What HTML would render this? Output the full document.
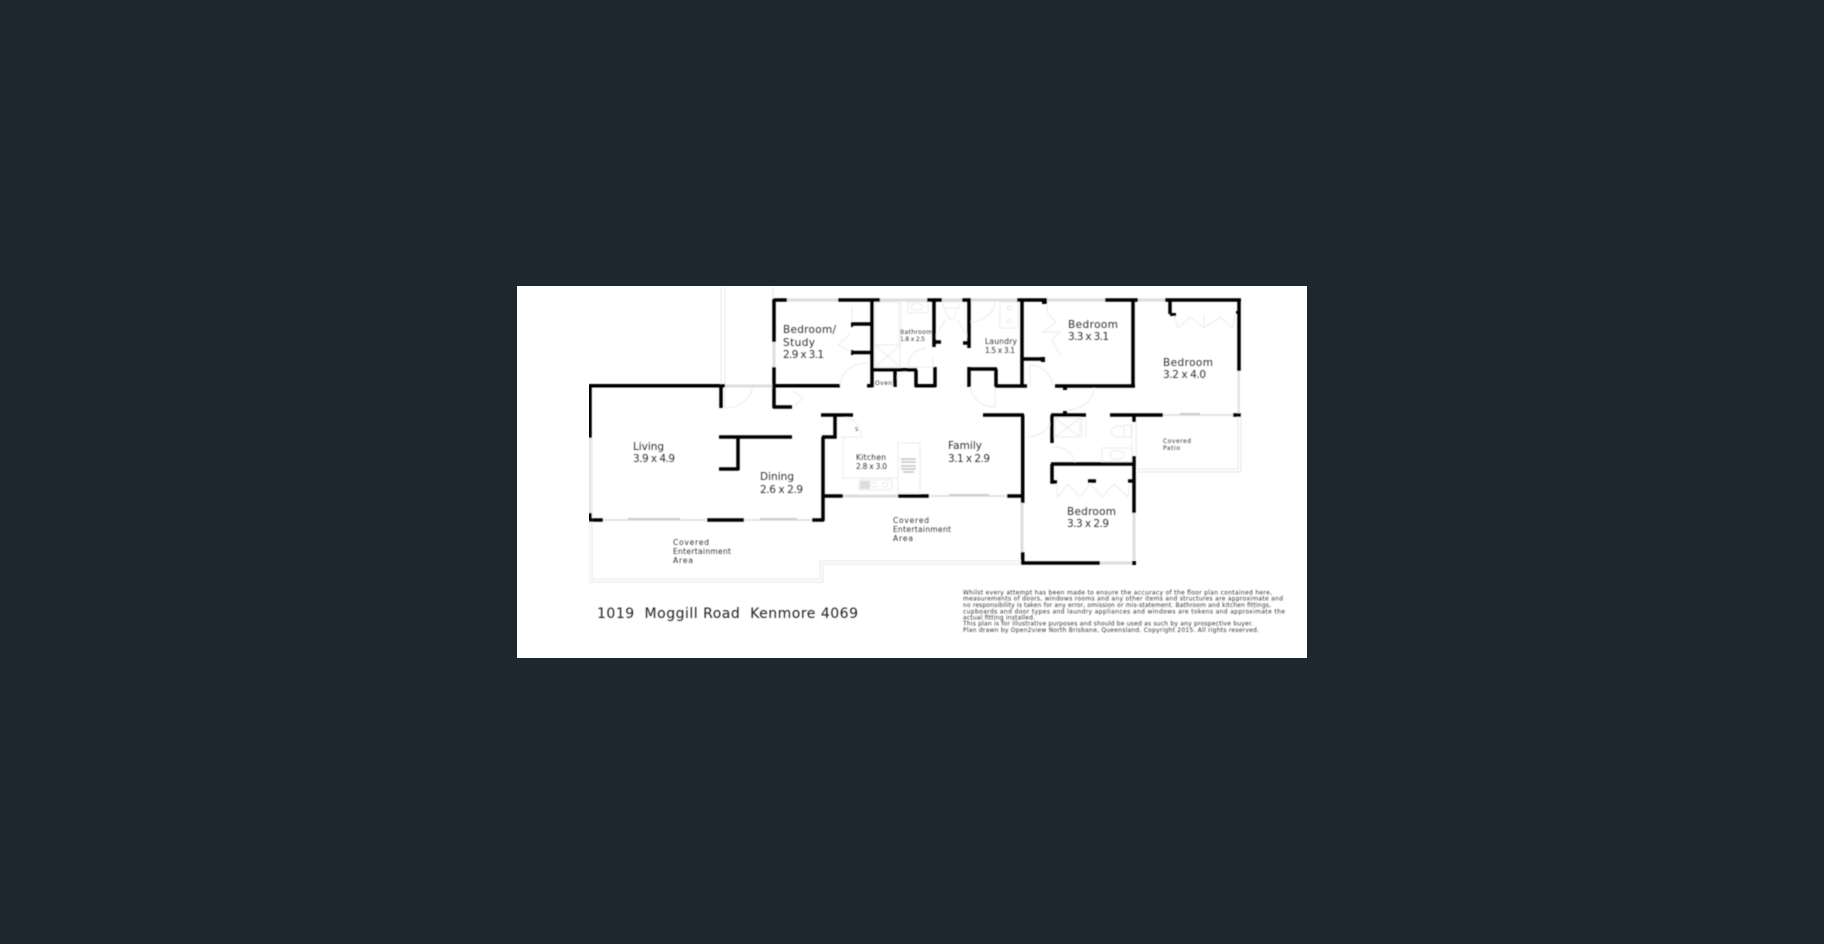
<!DOCTYPE html>
<html><head><meta charset="utf-8"><style>
html,body{margin:0;padding:0;background:#1f272e;width:1824px;height:944px;overflow:hidden}
svg{display:block}
text{font-family:"DejaVu Sans","Liberation Sans",sans-serif;fill:#333}
</style></head><body>
<svg width="1824" height="944" viewBox="0 0 1824 944" xmlns="http://www.w3.org/2000/svg">
<defs><filter id="b" x="0" y="0" width="100%" height="100%"><feGaussianBlur stdDeviation="0.45"/></filter></defs>
<rect width="1824" height="944" fill="#1f272e"/>
<rect x="517" y="286" width="790" height="372" fill="#fff"/>
<g filter="url(#b)">
<!-- light outlines -->
<g fill="none" stroke="#ebebeb" stroke-width="1.3">
<path d="M721 287V386M725 287V386M773 287V299"/>
<path d="M589 438V582H823V564H1022M592 438V579H820V561H1022"/>
<path d="M1137 472H1241V415M1137 469H1238V371"/>
</g>
<g fill="none" stroke="#eeeeee" stroke-width="1.2">
<!-- door arcs -->
<path d="M725 408A27 22 0 0 0 752 386H725V408"/>
<path d="M840 386A27 23 0 0 1 867 363"/>
<path d="M793 391L803 398L795 406"/>
<path d="M970 322A25 22 0 0 0 995 300"/>
<path d="M970 387A25 25 0 0 0 995 407V387"/>
<path d="M1030 365A24 22 0 0 1 1053 386M1030 365V386"/>
<path d="M1067 410A27 23 0 0 0 1094 387"/>
<path d="M1028 437A25 22 0 0 0 1052 415"/>
<path d="M1052 447A20 18 0 0 1 1075 464"/>
<path d="M908 367A20 18 0 0 1 926 348M908 367H933V357"/>
<path d="M913 370A20 20 0 0 0 893 388"/>
<!-- wardrobes -->
<path d="M852 306V324M852 352L838 345L850 334"/>
<path d="M1047 303V312L1056 322L1043 332H1060L1052 340L1060 355"/>
<path d="M1174 314L1178 328L1190 317L1204 328V314M1204 328L1220 317L1232 328L1236 314"/>
<path d="M1056 484L1058 497L1068 484L1080 497L1090 484L1102 497L1114 484L1128 497L1130 484"/>
<!-- bathroom -->
<rect x="875" y="302" width="24" height="43"/>
<path d="M875 345H900V367H875ZM875 345L900 367M900 345L875 367"/>
<rect x="908" y="302" width="20" height="11"/><ellipse cx="917" cy="307" rx="6" ry="3.5"/>
<path d="M901 302V345"/>
<rect x="943" y="302" width="16" height="6"/><path d="M945 309Q951 330 957 309"/>
<path d="M934 340L945 320M969 340L958 320"/>
<!-- laundry -->
<rect x="1000" y="302" width="18" height="26"/><circle cx="1009" cy="308" r="2"/><circle cx="1009" cy="321" r="2"/>
<!-- kitchen -->
<path d="M843 437V478H898"/><rect x="898" y="443" width="22" height="50"/>
<path d="M845 418Q858 418 862 437H840"/>
<rect x="859" y="480" width="33" height="10" rx="2"/><circle cx="874" cy="485" r="2.5"/><circle cx="885" cy="485" r="2.5"/>
<!-- ensuite -->
<path d="M1055 418H1080V437H1055ZM1055 418L1080 437M1080 418L1055 437"/>
<path d="M1086 418V437M1082 418V437"/>
<rect x="1124" y="425" width="7" height="12"/><path d="M1124 426H1116Q1106 431 1116 437H1124"/>
<rect x="1102" y="448" width="30" height="14"/><ellipse cx="1117" cy="455" rx="7" ry="4.5"/>
<path d="M1132 422V456M1136 422V456"/>
</g>
<!-- stove -->
<g stroke="#c4c4c4" stroke-width="1.4"><path d="M901 459H916M901 462H916M901 466H916M901 469H916M903 472H914"/></g>
<rect x="860" y="481" width="10" height="8" fill="#dcdcdc"/>
<!-- windows -->
<g fill="none" stroke="#dedede" stroke-width="3">
<path d="M787 300H838M880 300H927M942 300H962M971 300H1017M1047 300H1105M1138 300H1165"/>
<path d="M774 342V367M725 386H773"/>
<path d="M843 496H898M1022 503V552M1134 513V560M1100 563H1132"/>
</g>
<g fill="none" stroke="#e3e3e3" stroke-width="2">
<path d="M590 438V513M603 520H707M744 520H812M929 496H1007M1163 415H1233M1239 371V415"/>
</g>
<g fill="none" stroke="#cccccc" stroke-width="2"><path d="M628 519H680M760 519H797M949 495H989M1180 414H1200"/></g>
<!-- walls -->
<g fill="none" stroke="#000" stroke-width="3.5" stroke-linecap="butt">
<path d="M773 300H787M838 300H880M927 300H942M962 300H971M1017 300H1047M1105 300H1138M1165 300H1241"/>
<path d="M774 299V342M774 367V408M773 407H792"/>
<path d="M590 438V385.700H725M721 386V408M773 385.700H840"/>
<path d="M852 324H872M852 352.500H872M872 300V387M867 385.700H873"/>
<path d="M873 369.700H917M895 370V387M916 370V387M915 385.700H936M935 367V387"/>
<path d="M934 300V347M934 342H941M969 300V348M963 343H970"/>
<path d="M969 367V387M969 369H997M996 369V387M995 386H1027"/>
<path d="M1022 300V386M1023 359H1043"/>
<path d="M1133 300V386M1055 386H1135M1170 300V314M1239 299V371"/>
<path d="M983 415H1024M1022.700 415V503M1051 415H1086M1052 415V443"/>
<path d="M1110 415H1163M1233 415H1241M1134 415V422M1134 456V513"/>
<path d="M1051 464H1134M1052 464V482H1057M1088 481H1096M1128 481H1134"/>
<path d="M1022.700 552V563H1100"/>
<path d="M821 415H853M835 415V437H822M823 437V521"/>
<path d="M719 437H792M738 437V470M719 469H739"/>
<path d="M590 513V521M589 520H603M707 520H744M812 520H824M823 496H843M898 496H929M1007 496H1022"/>
</g>
<g fill="#000">
<rect x="1042" y="300" width="5" height="4"/><rect x="1041" y="357" width="4" height="5"/>
<rect x="1063" y="386" width="4" height="4"/><rect x="1063" y="411" width="4" height="4"/>
<rect x="1170" y="313" width="6" height="3"/><rect x="1236" y="311" width="3" height="3"/>
<rect x="1132" y="561" width="4" height="4"/><rect x="851" y="322" width="2" height="5"/><rect x="851" y="350" width="2" height="5"/>
</g>
<!-- labels -->
<g font-size="10.500">
<text x="783" y="333" textLength="53">Bedroom/</text>
<text x="783" y="346" textLength="32">Study</text>
<text x="783" y="358" textLength="41">2.9 x 3.1</text>
<text x="633" y="450" textLength="31">Living</text>
<text x="633" y="462" textLength="42">3.9 x 4.9</text>
<text x="760" y="480" textLength="34">Dining</text>
<text x="760" y="493" textLength="43">2.6 x 2.9</text>
<text x="1068" y="328" textLength="50">Bedroom</text>
<text x="1068" y="340" textLength="41">3.3 x 3.1</text>
<text x="1163" y="366" textLength="50">Bedroom</text>
<text x="1163" y="378" textLength="43">3.2 x 4.0</text>
<text x="948" y="449" textLength="34">Family</text>
<text x="948" y="462" textLength="42">3.1 x 2.9</text>
<text x="1067" y="515" textLength="49">Bedroom</text>
<text x="1067" y="527" textLength="42">3.3 x 2.9</text>
</g>
<g font-size="7.500">
<text x="856" y="460" textLength="30">Kitchen</text>
<text x="856" y="469" textLength="31">2.8 x 3.0</text>
<text x="985" y="344" textLength="32">Laundry</text>
<text x="985" y="353" textLength="30">1.5 x 3.1</text>
<text x="673" y="545" textLength="36">Covered</text>
<text x="673" y="554" textLength="58">Entertainment</text>
<text x="673" y="563" textLength="20">Area</text>
<text x="893" y="523" textLength="36">Covered</text>
<text x="893" y="532" textLength="58">Entertainment</text>
<text x="893" y="541" textLength="20">Area</text>
</g>
<g font-size="6">
<text x="900" y="334" textLength="32">Bathroom</text>
<text x="900" y="341" textLength="25">1.8 x 2.5</text>
<text x="875" y="385" textLength="17">Oven</text>
<text x="1163" y="443" textLength="28">Covered</text>
<text x="1163" y="450" textLength="17">Patio</text>
</g>
<text x="597" y="618" font-size="14" textLength="261" xml:space="preserve" style="fill:#222">1019  Moggill Road  Kenmore 4069</text>
<g font-size="6" style="fill:#444">
<text x="963" y="594.300" textLength="309">Whilst every attempt has been made to ensure the accuracy of the floor plan contained here,</text>
<text x="963" y="600.700" textLength="320">measurements of doors, windows rooms and any other items and structures are approximate and</text>
<text x="963" y="607" textLength="308">no responsibility is taken for any error, omission or mis-statement. Bathroom and kitchen fittings,</text>
<text x="963" y="613.300" textLength="322">cupboards and door types and laundry appliances and windows are tokens and approximate the</text>
<text x="963" y="619.700" textLength="72">actual fitting installed.</text>
<text x="963" y="625.700" textLength="290">This plan is for illustrative purposes and should be used as such by any prospective buyer.</text>
<text x="963" y="632" textLength="296">Plan drawn by Open2view North Brisbane, Queensland. Copyright 2015. All rights reserved.</text>
</g>
<text x="855" y="431" font-size="5">S</text>
</g>
</svg>
</body></html>
